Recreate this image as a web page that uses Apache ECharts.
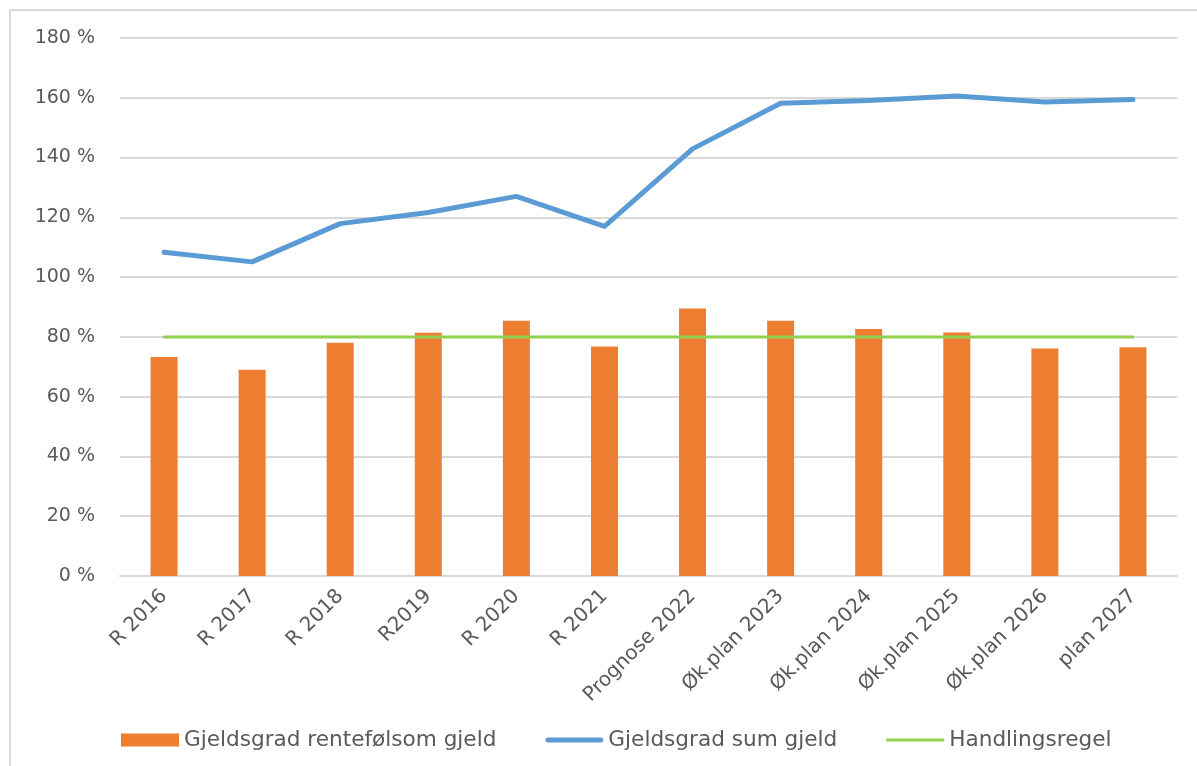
<!DOCTYPE html>
<html>
<head>
<meta charset="utf-8">
<title>Gjeldsgrad</title>
<script src="https://cdn.jsdelivr.net/npm/echarts@6/dist/echarts.min.js"></script>
<style>
  html, body { margin: 0; padding: 0; background: #ffffff; }
  #chart { width: 1197px; height: 766px; }
</style>
</head>
<body>
<div id="chart"></div>
<script>
// Categories (years) along the x axis
const categories = [
  'R 2016', 'R 2017', 'R 2018', 'R2019', 'R 2020', 'R 2021',
  'Prognose 2022', 'Øk.plan 2023', 'Øk.plan 2024', 'Øk.plan 2025', 'Øk.plan 2026', 'plan 2027'
];

// Debt ratio, interest-sensitive debt (%)
const rentefolsomGjeld = [73.3, 69.0, 78.0, 81.4, 85.4, 76.8, 89.5, 85.4, 82.6, 81.5, 76.1, 76.5];

// Debt ratio, total debt (%)
const sumGjeld = [108.3, 105.1, 117.9, 121.6, 127.0, 117.0, 142.9, 158.2, 159.1, 160.6, 158.6, 159.4];

// Fiscal rule limit (%)
const handlingsregel = [80, 80, 80, 80, 80, 80, 80, 80, 80, 80, 80, 80];

// Y axis range
const yMin = 0, yMax = 180, yStep = 20;

const textColor = '#595959';
const gridColor = '#d9d9d9';
const font = 'DejaVu Sans';

// Legend icons for the line series: a bar of the line's thickness, centred in
// a 58x13 box (the zero-area strokes at top and bottom fix the box size)
const thickLineIcon = 'path://M0,0L58,0L0,0Z M2,4H56A2.5,2.5,0,0,1,56,9H2A2.5,2.5,0,0,1,2,4Z M0,13L58,13L0,13Z';
const thinLineIcon = 'path://M0,0L58,0L0,0Z M0,5H58V8H0Z M0,13L58,13L0,13Z';

const chart = echarts.init(document.getElementById('chart'), null, { renderer: 'canvas' });

chart.setOption({
  backgroundColor: '#ffffff',
  animation: false,
  graphic: [{
    type: 'rect',
    shape: { x: 10, y: 10, width: 1200, height: 770 },
    style: { fill: 'none', stroke: gridColor, lineWidth: 2 },
    silent: true
  }],
  grid: { left: 120, right: 20, top: 38, bottom: 190 },
  legend: {
    left: 116,
    top: 724,
    itemWidth: 58,
    itemHeight: 13,
    itemGap: 49,
    textStyle: { color: textColor, fontFamily: font, fontSize: 21.6 },
    data: [
      { name: 'Gjeldsgrad rentefølsom gjeld', icon: 'rect' },
      { name: 'Gjeldsgrad sum gjeld', icon: thickLineIcon },
      { name: 'Handlingsregel', icon: thinLineIcon }
    ]
  },
  xAxis: {
    type: 'category',
    data: categories,
    boundaryGap: true,
    axisLine: { show: true, lineStyle: { color: gridColor, width: 2 } },
    axisTick: { show: false },
    axisLabel: {
      interval: 0,
      rotate: 45,
      margin: 17,
      color: textColor,
      fontFamily: font,
      fontSize: 20
    }
  },
  yAxis: {
    type: 'value',
    min: yMin,
    max: yMax,
    interval: yStep,
    axisLine: { show: false },
    axisTick: { show: false },
    splitLine: { lineStyle: { color: gridColor, width: 2 } },
    axisLabel: {
      formatter: '{value} %',
      margin: 25,
      color: textColor,
      fontFamily: font,
      fontSize: 19
    }
  },
  series: [
    {
      name: 'Gjeldsgrad rentefølsom gjeld',
      type: 'bar',
      data: rentefolsomGjeld,
      barWidth: 27,
      itemStyle: { color: '#ed7d31' },
      z: 2
    },
    {
      name: 'Gjeldsgrad sum gjeld',
      type: 'line',
      data: sumGjeld,
      symbol: 'none',
      lineStyle: { color: '#5b9bd5', width: 5, cap: 'round', join: 'round' },
      itemStyle: { color: '#5b9bd5' },
      z: 3
    },
    {
      name: 'Handlingsregel',
      type: 'line',
      data: handlingsregel,
      symbol: 'none',
      lineStyle: { color: '#92d050', width: 3, cap: 'round' },
      itemStyle: { color: '#92d050' },
      z: 4
    }
  ]
});
</script>
</body>
</html>
